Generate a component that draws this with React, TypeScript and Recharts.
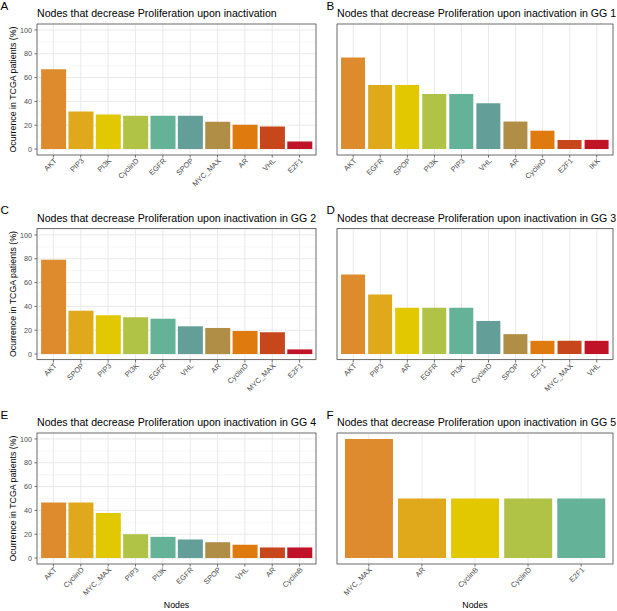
import React from 'react';
import { BarChart, Bar, XAxis, YAxis, CartesianGrid, Cell } from 'recharts';

// panel data
const nodesAll = ['AKT', 'PIP3', 'PI3K', 'CyclinD', 'EGFR', 'SPOP', 'MYC_MAX', 'AR', 'VHL', 'E2F1'];
const valuesAll = [67, 31.5, 29, 28, 28, 28, 23, 20.5, 19, 6.3];

const nodesGG1 = ['AKT', 'EGFR', 'SPOP', 'PI3K', 'PIP3', 'VHL', 'AR', 'CyclinD', 'E2F1', 'IKK'];
const valuesGG1 = [76.9, 53.8, 53.8, 46.2, 46.2, 38.5, 23.1, 15.4, 7.7, 7.7];

const nodesGG2 = ['AKT', 'SPOP', 'PIP3', 'PI3K', 'EGFR', 'VHL', 'AR', 'CyclinD', 'MYC_MAX', 'E2F1'];
const valuesGG2 = [79.2, 36.4, 32.5, 30.8, 29.7, 23.3, 21.9, 19.4, 18.3, 3.9];

const nodesGG3 = ['AKT', 'PIP3', 'AR', 'EGFR', 'PI3K', 'CyclinD', 'SPOP', 'E2F1', 'MYC_MAX', 'VHL'];
const valuesGG3 = [66.7, 50, 38.9, 38.9, 38.9, 27.8, 16.7, 11.1, 11.1, 11.1];

const nodesGG4 = ['AKT', 'CyclinD', 'MYC_MAX', 'PIP3', 'PI3K', 'EGFR', 'SPOP', 'VHL', 'AR', 'CyclinB'];
const valuesGG4 = [46.7, 46.7, 37.8, 20, 17.8, 15.6, 13.3, 11.1, 8.9, 8.9];

const nodesGG5 = ['MYC_MAX', 'AR', 'CyclinB', 'CyclinD', 'E2F1'];
const valuesGG5 = [100, 50, 50, 50, 50];

const yTicks = [0, 20, 40, 60, 80, 100];
const yMinor = [10, 30, 50, 70, 90];

const palette = ['#DE8B2D', '#E0A91B', '#E2C800', '#B0C346', '#64B398', '#639F98', '#B18E46', '#DF7A0E', '#C8461B', '#C01328'];

const FONT = '"Liberation Sans", Arial, sans-serif';
const baseTitle = 'Nodes that decrease Proliferation upon inactivation';

const panels = [
  { letter: 'A', title: baseTitle, nodes: nodesAll, values: valuesAll, col: 0, row: 0 },
  { letter: 'B', title: baseTitle + ' in GG 1', nodes: nodesGG1, values: valuesGG1, col: 1, row: 0 },
  { letter: 'C', title: baseTitle + ' in GG 2', nodes: nodesGG2, values: valuesGG2, col: 0, row: 1 },
  { letter: 'D', title: baseTitle + ' in GG 3', nodes: nodesGG3, values: valuesGG3, col: 1, row: 1 },
  { letter: 'E', title: baseTitle + ' in GG 4', nodes: nodesGG4, values: valuesGG4, col: 0, row: 2 },
  { letter: 'F', title: baseTitle + ' in GG 5', nodes: nodesGG5, values: valuesGG5, col: 1, row: 2 },
];

// layout (px)
const rowTop = [0, 204.5, 409];
const colLeft = [0, 305];
const colWidth = [318, 312];
const yAxisW = [37, 32];
const rightPad = [2, 4];
const CHART_H = 195;
const PLOT_TOP = 24;
const XAXIS_H = 40;
const PLOT_H = CHART_H - PLOT_TOP - XAXIS_H;

const XTick = (props: any) => {
  const { x, y, payload } = props;
  return (
    <text
      x={x}
      y={y}
      transform={`rotate(-45 ${x} ${y})`}
      textAnchor="end"
      dy="0.71em"
      fontSize={7.4}
      fill="#4D4D4D"
      fontFamily={FONT}
    >
      {payload.value}
    </text>
  );
};

const Panel = ({ p }: { p: any }) => {
  const data = p.nodes.map((n: string, i: number) => ({ node: n, value: p.values[i] }));
  const plotW = colWidth[p.col] - yAxisW[p.col] - rightPad[p.col];
  const pad = (plotW / (p.nodes.length + 0.2)) * 0.1;
  return (
    <div style={{ position: 'absolute', left: colLeft[p.col], top: rowTop[p.row] }}>
      <BarChart
        width={colWidth[p.col]}
        height={CHART_H}
        data={data}
        margin={{ top: PLOT_TOP, right: rightPad[p.col], bottom: 0, left: 0 }}
        barCategoryGap="5%"
      >
        <CartesianGrid horizontalValues={yMinor} vertical={false} stroke="#EFEFEF" strokeWidth={0.5} />
        <CartesianGrid stroke="#E8E8E8" strokeWidth={0.9} />
        <XAxis
          dataKey="node"
          type="category"
          interval={0}
          height={XAXIS_H}
          padding={{ left: pad, right: pad }}
          axisLine={false}
          tickLine={{ stroke: '#333333', strokeWidth: 0.7 }}
          tickSize={2.5}
          tickMargin={0}
          tick={<XTick />}
        />
        <YAxis
          type="number"
          domain={[-5, 105]}
          ticks={yTicks}
          allowDataOverflow
          width={yAxisW[p.col]}
          axisLine={false}
          tickLine={{ stroke: '#333333', strokeWidth: 0.7 }}
          tickSize={2.5}
          tickMargin={2.5}
          tick={p.col === 0 ? { fontSize: 7.2, fill: '#4D4D4D', fontFamily: FONT } : false}
        />
        <Bar dataKey="value" isAnimationActive={false}>
          {data.map((d: any, i: number) => (
            <Cell key={d.node} fill={palette[i]} />
          ))}
        </Bar>
      </BarChart>
    </div>
  );
};

const App = () => {
  return (
    <div style={{ position: 'absolute', left: 0, top: 0, width: 617, height: 611, background: '#fff', fontFamily: FONT }}>
      {panels.map((p) => (
        <Panel key={p.letter} p={p} />
      ))}
      <svg width={617} height={611} style={{ position: 'absolute', left: 0, top: 0, pointerEvents: 'none' }}>
        {panels.map((p) => {
          const px = colLeft[p.col] + yAxisW[p.col];
          const py = rowTop[p.row] + PLOT_TOP;
          const pw = colWidth[p.col] - yAxisW[p.col] - rightPad[p.col];
          return (
            <g key={p.letter} fontFamily={FONT}>
              <rect x={px} y={py} width={pw} height={PLOT_H} fill="none" stroke="#555555" strokeWidth={0.8} />
              <text x={p.col === 0 ? 0.5 : 326.5} y={rowTop[p.row] + 9.5} fontSize={11.6} fill="#000">
                {p.letter}
              </text>
              <text x={px} y={py - 7} fontSize={10.6} fill="#000">
                {p.title}
              </text>
              {p.col === 0 && (
                <text
                  x={15.5}
                  y={py + PLOT_H / 2}
                  transform={`rotate(-90 15.5 ${py + PLOT_H / 2})`}
                  textAnchor="middle"
                  fontSize={8.8}
                  fill="#000"
                >
                  Ocurrence in TCGA patients (%)
                </text>
              )}
              {p.row === 2 && (
                <text x={px + pw / 2} y={607.5} textAnchor="middle" fontSize={8.8} fill="#000">
                  Nodes
                </text>
              )}
            </g>
          );
        })}
      </svg>
    </div>
  );
};

export default App;
